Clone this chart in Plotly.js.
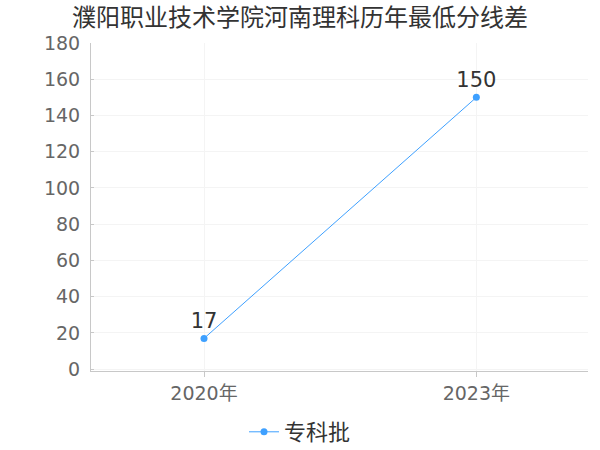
<!DOCTYPE html>
<html>
<head>
<meta charset="utf-8">
<script src="https://cdn.plot.ly/plotly-3.0.1.min.js"></script>
<style>
  html, body { margin: 0; padding: 0; background: #fff; }
  #chart { width: 600px; height: 450px; }
</style>
</head>
<body>
<div id="chart"></div>
<script>
// Chart data
const years = ['2020年', '2023年'];
const diffValues = [17, 150];
const seriesName = '专科批';
const chartTitle = '濮阳职业技术学院河南理科历年最低分线差';

const FONT = '"DejaVu Sans", "Noto Sans CJK SC", sans-serif';

const trace = {
    x: years,
    y: diffValues,
    name: seriesName,
    type: 'scatter',
    mode: 'lines+markers+text',
    text: diffValues.map(String),
    textposition: 'top center',
    textfont: { size: 21, color: '#333', family: FONT },
    line: { color: '#3ea0ff', width: 1 },
    marker: { color: '#3ea0ff', size: 7 },
    cliponaxis: false
};

const layout = {
    width: 600,
    height: 450,
    paper_bgcolor: '#fff',
    plot_bgcolor: '#fff',
    margin: { l: 91, r: 12, t: 43, b: 79 },
    title: {
        text: chartTitle,
        x: 0.5,
        xanchor: 'center',
        yref: 'container',
        y: 0.96,
        yanchor: 'middle',
        font: { size: 24, color: '#333', family: FONT }
    },
    xaxis: {
        type: 'category',
        range: [-0.415, 1.41],
        showgrid: true,
        gridcolor: '#f4f4f4',
        showline: true,
        linecolor: '#c8c8c8',
        ticks: 'outside',
        ticklen: 5,
        tickcolor: '#c8c8c8',
        tickfont: { size: 19, color: '#666', family: FONT },
        zeroline: false,
        fixedrange: true
    },
    yaxis: {
        range: [-1, 180],
        dtick: 20,
        tick0: 0,
        showgrid: true,
        gridcolor: '#f4f4f4',
        showline: true,
        linecolor: '#c8c8c8',
        ticks: 'inside',
        ticklen: 3,
        tickcolor: '#c8c8c8',
        tickfont: { size: 19, color: '#666', family: FONT },
        ticklabelstandoff: 6,
        zeroline: false,
        fixedrange: true
    },
    showlegend: true,
    legend: {
        orientation: 'h',
        xref: 'container',
        x: 0.5,
        xanchor: 'center',
        yref: 'container',
        y: 0.04,
        yanchor: 'middle',
        font: { size: 22, color: '#333', family: FONT },
        itemwidth: 30
    }
};

Plotly.newPlot('chart', [trace], layout, { displayModeBar: false, staticPlot: true });
</script>
</body>
</html>
